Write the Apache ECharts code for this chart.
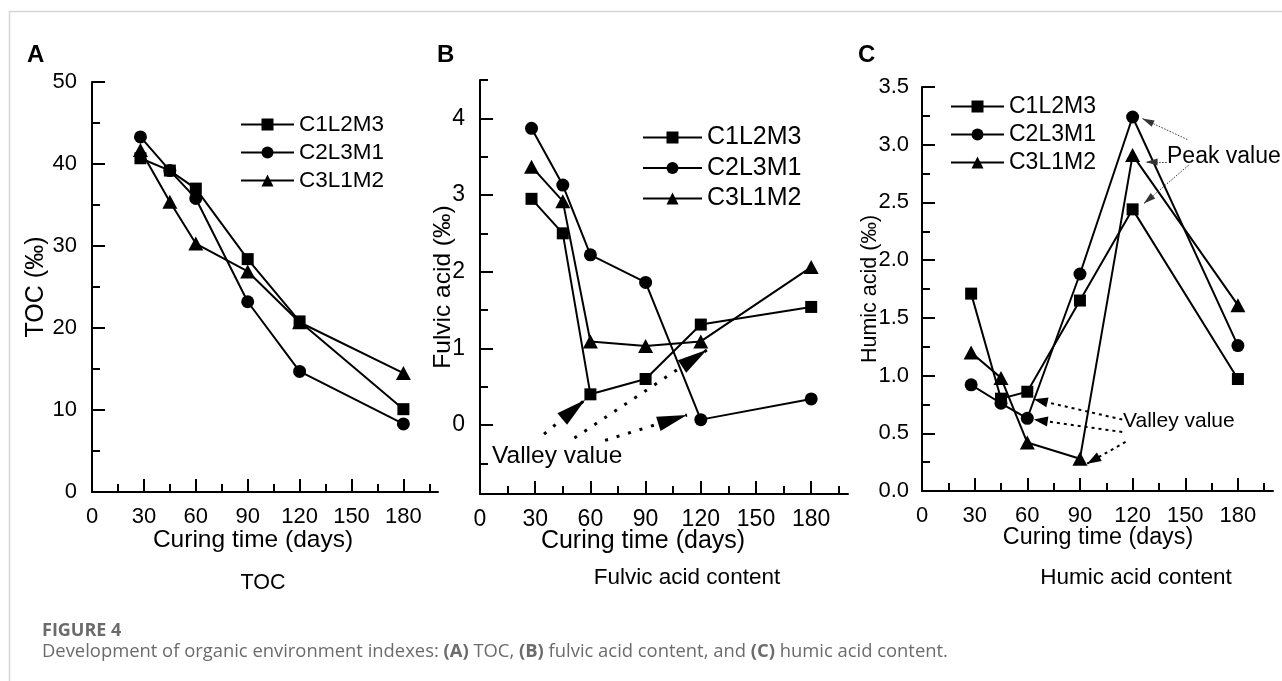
<!DOCTYPE html>
<html>
<head>
<meta charset="utf-8">
<title>Figure 4</title>
<script src="https://cdn.jsdelivr.net/npm/echarts@6/dist/echarts.min.js"></script>
<style>
html, body { margin: 0; padding: 0; background: #fff; }
#chart { width: 1282px; height: 681px; }
</style>
</head>
<body>
<div id="chart"></div>
<script>
// curing time (days) of every sample
const days = [28, 45, 60, 90, 120, 180]
const seriesNames = ['C1L2M3', 'C2L3M1', 'C3L1M2']

// (A) TOC, ‰
const tocC1 = [40.7, 39.2, 37.0, 28.4, 20.8, 10.1]
const tocC2 = [43.3, 39.2, 35.8, 23.2, 14.7, 8.3]
const tocC3 = [41.7, 35.4, 30.3, 26.9, 20.7, 14.5]

// (B) fulvic acid, ‰
const fulvicC1 = [2.95, 2.50, 0.40, 0.60, 1.31, 1.54]
const fulvicC2 = [3.87, 3.13, 2.22, 1.86, 0.07, 0.34]
const fulvicC3 = [3.37, 2.92, 1.09, 1.03, 1.09, 2.06]

// (C) humic acid, ‰
const humicC1 = [1.71, 0.80, 0.86, 1.65, 2.44, 0.97]
const humicC2 = [0.92, 0.76, 0.63, 1.88, 3.24, 1.26]
const humicC3 = [1.20, 0.98, 0.42, 0.28, 2.91, 1.61]

// tick values
const xTicks = [0, 30, 60, 90, 120, 150, 180]
const xMinorTicks = [15, 45, 75, 105, 135, 165, 195]
const tocTicks = [0, 10, 20, 30, 40, 50]
const tocMinorTicks = [5, 15, 25, 35, 45]
const fulvicTicks = [0, 1, 2, 3, 4]
const fulvicMinorTicks = [-0.5, 0.5, 1.5, 2.5, 3.5, 4.5]
const humicTicks = [0, 0.5, 1, 1.5, 2, 2.5, 3, 3.5]
const humicMinorTicks = [0.25, 0.75, 1.25, 1.75, 2.25, 2.75, 3.25]

// annotation arrows, [from, to] in data units (day, value)
const fulvicValleyArrows = [
  [[34.8, -0.12], [57.2, 0.33]],
  [[51.3, -0.17], [123.4, 0.98]],
  [[68.0, -0.20], [112.5, 0.13]]
]
const humicPeakArrows = [
  [[151.2, 3.045], [125.5, 3.227]],
  [[139.4, 2.851], [127.4, 2.851]],
  [[151.9, 2.822], [126.4, 2.490]]
]
const humicValleyArrows = [
  [[114.1, 0.619], [63.7, 0.795]],
  [[114.1, 0.511], [63.7, 0.619]],
  [[116.0, 0.425], [94.1, 0.237]]
]

const FONT = '"Liberation Sans", Arial, sans-serif'
const CAPTION_FONT = '"Open Sans", "Noto Sans", sans-serif'

const grids = [
  { left: 92, top: 82, width: 346, height: 410 },
  { left: 480, top: 80, width: 368, height: 414 },
  { left: 922, top: 87, width: 351, height: 404 }
]

function xAxes(gridIndex, fontSize) {
  return [{
    type: 'value',
    gridIndex: gridIndex,
    position: 'bottom',
    min: 0,
    max: 200,
    axisLine: { onZero: false, lineStyle: { color: '#000', width: 2 } },
    axisTick: { inside: true, length: 13, customValues: xTicks, lineStyle: { color: '#000', width: 2 } },
    axisLabel: { customValues: xTicks, fontSize: fontSize, color: '#000', margin: 14, fontFamily: FONT },
    splitLine: { show: false }
  }, {
    type: 'value',
    gridIndex: gridIndex,
    position: 'bottom',
    min: 0,
    max: 200,
    axisLine: { show: false, onZero: false },
    axisTick: { inside: true, length: 8, customValues: xMinorTicks, lineStyle: { color: '#000', width: 2 } },
    axisLabel: { show: false },
    splitLine: { show: false }
  }]
}

function yAxes(gridIndex, min, max, ticks, minorTicks, name, nameSize, nameGap, fontSize, labelMargin, decimals) {
  return [{
    type: 'value',
    gridIndex: gridIndex,
    position: 'left',
    min: min,
    max: max,
    name: name,
    nameLocation: 'middle',
    nameRotate: 90,
    nameGap: nameGap,
    nameMoveOverlap: false,
    nameTextStyle: { fontSize: nameSize, color: '#000', fontFamily: FONT },
    axisLine: { onZero: false, lineStyle: { color: '#000', width: 2 } },
    axisTick: { inside: true, length: 13, customValues: ticks, lineStyle: { color: '#000', width: 2 } },
    axisLabel: {
      customValues: ticks,
      fontSize: fontSize,
      color: '#000',
      margin: labelMargin,
      fontFamily: FONT,
      formatter: function (v) { return Number(v).toFixed(decimals) }
    },
    splitLine: { show: false }
  }, {
    type: 'value',
    gridIndex: gridIndex,
    position: 'left',
    min: min,
    max: max,
    axisLine: { show: false, onZero: false },
    axisTick: { inside: true, length: 8, customValues: minorTicks, lineStyle: { color: '#000', width: 2 } },
    axisLabel: { show: false },
    splitLine: { show: false }
  }]
}

const symbols = [
  { symbol: 'rect', size: 12 },
  { symbol: 'circle', size: 13 },
  { symbol: 'triangle', size: [15, 14] }
]

function lineSeries(gridIndex, k, values, markLine) {
  const s = {
    type: 'line',
    name: seriesNames[k],
    xAxisIndex: gridIndex * 2,
    yAxisIndex: gridIndex * 2,
    data: days.map(function (d, i) { return [d, values[i]] }),
    symbol: symbols[k].symbol,
    symbolSize: symbols[k].size,
    showAllSymbol: true,
    itemStyle: { color: '#000' },
    lineStyle: { color: '#000', width: 2 },
    z: 3
  }
  if (markLine) s.markLine = markLine
  return s
}

// dotted leader lines with a filled triangle head at the "to" end
function arrows(list, color, dash, width, headW, headH) {
  return {
    silent: true,
    animation: false,
    symbol: 'none',
    symbolSize: 0,
    label: { show: false },
    emphasis: { disabled: true },
    lineStyle: { color: color, type: dash, width: width },
    data: list.map(function (a) {
      return [
        { coord: a[0], symbol: 'none' },
        { coord: a[1], symbol: 'triangle', symbolSize: [headW, headH], symbolOffset: [0, headH / 2] }
      ]
    })
  }
}

function legend(left, top, itemWidth, itemGap, fontSize) {
  return {
    left: left,
    top: top,
    padding: 0,
    orient: 'vertical',
    itemWidth: itemWidth,
    itemHeight: 15,
    itemGap: itemGap,
    selectedMode: false,
    textStyle: { fontSize: fontSize, lineHeight: fontSize, color: '#000', fontFamily: FONT },
    data: seriesNames
  }
}

function text(str, x, y, size, opts) {
  return {
    type: 'text',
    x: x,
    y: y,
    silent: true,
    style: Object.assign({
      text: str,
      fontSize: size,
      fontFamily: FONT,
      fill: '#000',
      align: 'center',
      verticalAlign: 'middle'
    }, opts || {})
  }
}

const chart = echarts.init(document.getElementById('chart'), null, { renderer: 'canvas' })

const options = {
  backgroundColor: '#fff',
  animation: false,
  grid: grids,
  xAxis: [].concat(xAxes(0, 22), xAxes(1, 23), xAxes(2, 22)),
  yAxis: [].concat(
    yAxes(0, 0, 50, tocTicks, tocMinorTicks, 'TOC (‰)', 25, 43, 22, 15, 0),
    yAxes(1, -0.9, 4.5, fulvicTicks, fulvicMinorTicks, 'Fulvic acid (‰)', 24.5, 24, 23, 15, 0),
    yAxes(2, 0, 3.5, humicTicks, humicMinorTicks, 'Humic acid (‰)', 21.5, 41, 22, 13, 1)
  ),
  legend: [
    legend(240, 113, 53, 5, 22.5),
    legend(642, 125, 59, 5.5, 25),
    legend(950, 95, 53, 5, 23)
  ],
  series: [
    lineSeries(0, 0, tocC1),
    lineSeries(0, 1, tocC2),
    lineSeries(0, 2, tocC3),
    lineSeries(1, 0, fulvicC1, arrows(fulvicValleyArrows, '#000', [3, 9], 3, 15, 30)),
    lineSeries(1, 1, fulvicC2),
    lineSeries(1, 2, fulvicC3),
    lineSeries(2, 0, humicC1, arrows(humicPeakArrows, '#333', [1.5, 1.5], 1, 7, 12)),
    lineSeries(2, 1, humicC2, arrows(humicValleyArrows, '#000', [3, 4], 2, 10, 14)),
    lineSeries(2, 2, humicC3)
  ],
  graphic: {
    elements: [
      {
        type: 'polyline',
        silent: true,
        shape: { points: [[9.5, 681], [9.5, 11.5], [1282, 11.5]] },
        style: { stroke: '#d6d6d6', lineWidth: 1.5, fill: null }
      },
      text('A', 27, 55, 24, { fontWeight: 'bold', align: 'left' }),
      text('B', 437, 55, 24, { fontWeight: 'bold', align: 'left' }),
      text('C', 858, 55, 24, { fontWeight: 'bold', align: 'left' }),
      text('Curing time (days)', 253, 540, 24.5),
      text('Curing time (days)', 643, 541, 25),
      text('Curing time (days)', 1098, 538, 23.3),
      text('TOC', 263, 583, 21.5),
      text('Fulvic acid content', 687, 578, 22.5),
      text('Humic acid content', 1136, 578, 22.5),
      text('Valley value', 492, 456, 24.5, { align: 'left' }),
      text('Valley value', 1123, 421, 21, { align: 'left' }),
      text('Peak value', 1167, 157, 23, { align: 'left' }),
      text('FIGURE 4', 42, 631, 18, { align: 'left', fontFamily: CAPTION_FONT, fontWeight: 'bold', fill: '#6b6b6b' }),
      text('Development of organic environment indexes: {b|(A)} TOC, {b|(B)} fulvic acid content, and {b|(C)} humic acid content.',
        42, 652, 18.4, {
          align: 'left',
          fontFamily: CAPTION_FONT,
          fill: '#6b6b6b',
          rich: { b: { fontWeight: 'bold', fontSize: 18.4, fontFamily: CAPTION_FONT, fill: '#6b6b6b' } }
        })
    ]
  }
}

chart.setOption(options)
</script>
</body>
</html>
